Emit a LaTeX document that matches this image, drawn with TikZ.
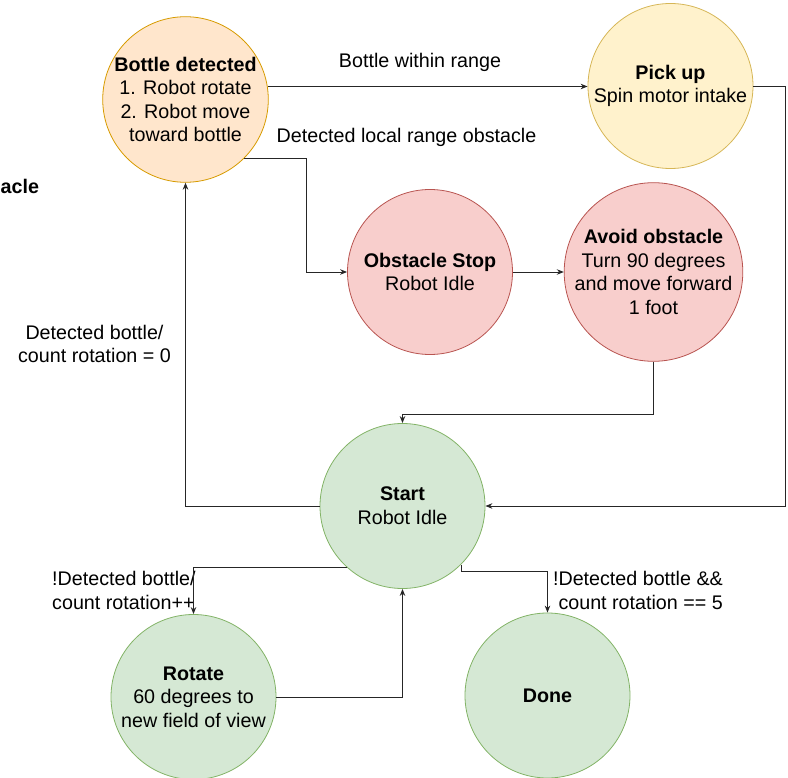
\documentclass[tikz,border=0pt]{standalone}
\usepackage{fontspec}
\setmainfont{Liberation Sans}
\usetikzlibrary{arrows.meta,calc}
\definecolor{orfill}{HTML}{FFE6CC}\definecolor{ordraw}{HTML}{D79B00}
\definecolor{yefill}{HTML}{FFF2CC}\definecolor{yedraw}{HTML}{D6B656}
\definecolor{rdfill}{HTML}{F8CECC}\definecolor{rddraw}{HTML}{B85450}
\definecolor{grfill}{HTML}{D5E8D4}\definecolor{grdraw}{HTML}{82B366}
\begin{document}
\begin{tikzpicture}[x=1pt,y=-1pt,
  state/.style={circle,minimum size=165pt,inner sep=0pt,align=center,line width=0.8pt,font=\fontsize{19.7}{23.6}\selectfont},
  orange/.style={state,fill=orfill,draw=ordraw},
  yellow/.style={state,fill=yefill,draw=yedraw},
  red/.style={state,fill=rdfill,draw=rddraw},
  green/.style={state,fill=grfill,draw=grdraw},
  lbl/.style={font=\fontsize{19.7}{23.6}\selectfont,inner sep=0pt},
  arr/.style={-{Stealth[length=7pt,width=5.5pt]},line width=0.9pt,draw=black!85}]
\useasboundingbox (0,0) rectangle (788,778);

\node[orange] (bottle) at (185.5,99.5) {\textbf{Bottle detected}\\1. Robot rotate\\2. Robot move\\toward bottle};
\node[yellow] (pick) at (670.5,86) {\textbf{Pick up}\\Spin motor intake};
\node[red] (obst) at (430,272) {\textbf{Obstacle Stop}\\Robot Idle};
\node[red] (avoid) at (653.5,272) {\textbf{Avoid obstacle}\\Turn 90 degrees\\and move forward\\1 foot};
\node[green] (start) at (402.5,506) {\textbf{Start}\\Robot Idle};
\node[green] (rotate) at (193.5,697) {\textbf{Rotate}\\60 degrees to\\new field of view};
\node[green] (done) at (547.5,695.5) {\textbf{Done}};

\node[lbl,anchor=base] (l1) at (420,68) {Bottle within range};
\node[lbl,anchor=base] (l2) at (406.5,143) {Detected local range obstacle};
\node[lbl,align=center] (l3) at (94.5,344) {Detected bottle/\\count rotation = 0};
\node[lbl,align=left,anchor=west] (l4) at (52,590.5) {!Detected bottle/\\count rotation++};
\node[lbl,align=right,anchor=east] (l5) at (723,590.5) {!Detected bottle \&\&\\count rotation == 5};
\node[lbl,anchor=base west,font=\fontsize{19.7}{23.6}\selectfont\bfseries] (l6) at (0.5,194) {acle};

\draw[arr] (bottle.9) -- (bottle.9 -| pick.west);
\draw[arr] (bottle.-45) -- ++(62,0) |- (obst.west);
\draw[arr] (obst.east) -- (avoid.west);
\draw[arr] (avoid.south) -- ++(0,53) -| (start.north);
\draw[arr] (pick.east) -- ++(32,0) |- (start.east);
\draw[arr] (start.west) -| (bottle.south);
\draw[arr] (start.228) -| (rotate.north);
\draw[arr] (rotate.east) -| (start.south);
\draw[arr] (start.-45) -- ++(0,7) -| (done.north);
\end{tikzpicture}
\end{document}
